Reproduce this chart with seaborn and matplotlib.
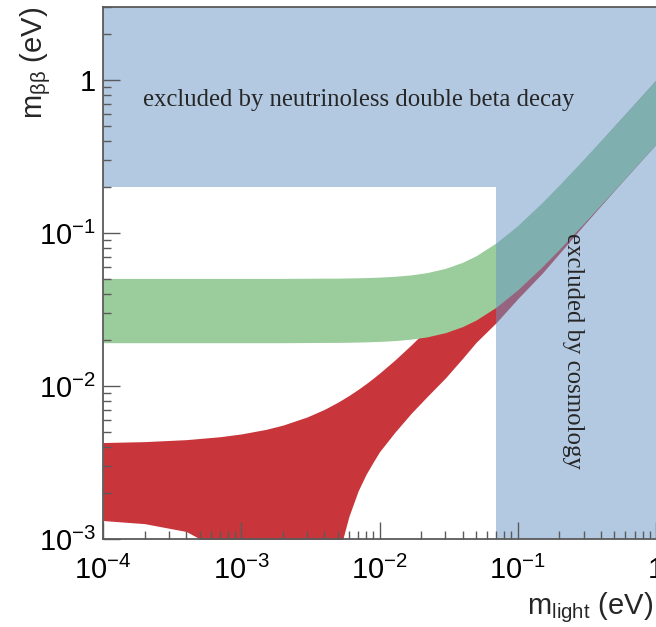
import numpy as np
import pandas as pd
import matplotlib
matplotlib.use("Agg")
import matplotlib.pyplot as plt
import seaborn as sns
from matplotlib.ticker import NullFormatter

# ---- data ----
m_light = [1e-4, 2e-4, 4e-4, 7e-4, 1e-3, 1.5e-3, 2e-3, 3e-3, 4e-3, 5e-3, 5.43e-3,
           6e-3, 7e-3, 8e-3, 9e-3, 0.01, 0.013, 0.017, 0.022, 0.03, 0.04, 0.05, 0.07,
           0.1, 0.15, 0.2, 0.3, 0.5, 0.7, 1.0]

# inverted hierarchy band (green)
ih_upper = [0.0505, 0.0505, 0.0505, 0.0505, 0.0505, 0.0505, 0.0505, 0.0506, 0.0507,
            0.0507, 0.0508, 0.05085, 0.05098, 0.05113, 0.0513, 0.05148, 0.05214,
            0.05328, 0.05508, 0.05874, 0.06442, 0.07106, 0.08631, 0.1120, 0.1583,
            0.2063, 0.3042, 0.5025, 0.7018, 1.0013]
ih_lower = [0.01919, 0.01919, 0.01919, 0.01919, 0.01919, 0.01919, 0.01919, 0.01923,
            0.01927, 0.01927, 0.0193, 0.01932, 0.01937, 0.01943, 0.0195, 0.01956,
            0.01981, 0.02025, 0.02093, 0.02232, 0.02448, 0.02700, 0.03280, 0.04256,
            0.06015, 0.07839, 0.1156, 0.1910, 0.2667, 0.3805]

# normal hierarchy band (red)
nh_upper = [0.00427, 0.00433, 0.00446, 0.00466, 0.00486, 0.00520, 0.00555, 0.00628,
            0.00704, 0.00784, 0.0082, 0.00866, 0.0095, 0.01036, 0.01124, 0.01213,
            0.01486, 0.01860, 0.02338, 0.03113, 0.04092, 0.05077, 0.07058, 0.10042,
            0.1503, 0.2003, 0.3002, 0.5001, 0.7001, 1.0]
nh_lower = [0.00132, 0.00126, 0.00112, 0.00085, 0.0006, 0.0003, 0.0001, 0.0001,
            0.0002, 0.0005, 0.0010, 0.00140, 0.00206, 0.00265, 0.00318, 0.00372,
            0.00502, 0.00665, 0.00849, 0.0113, 0.01521, 0.0193, 0.0260, 0.0372,
            0.0545, 0.0735, 0.1125, 0.1895, 0.2660, 0.3800]

# exclusion limits
mbb_limit = 0.2        # neutrinoless double beta decay
mlight_limit = 0.07    # cosmology

xlim = (1e-4, 1.0)
ylim = (1e-3, 3.0)

xtick_values = [1e-4, 1e-3, 1e-2, 1e-1, 1.0]
xtick_labels = [r"$10^{-4}$", r"$10^{-3}$", r"$10^{-2}$", r"$10^{-1}$", "1"]
ytick_values = [1e-3, 1e-2, 1e-1, 1.0]
ytick_labels = [r"$10^{-3}$", r"$10^{-2}$", r"$10^{-1}$", "1"]

df = pd.DataFrame({"m_light": m_light, "ih_upper": ih_upper, "ih_lower": ih_lower,
                   "nh_upper": nh_upper, "nh_lower": nh_lower})

# ---- style ----
sns.set_theme(style="ticks")
plt.rcParams["font.family"] = ["Liberation Sans", "DejaVu Sans"]
plt.rcParams["mathtext.default"] = "regular"
plt.rcParams["mathtext.fontset"] = "custom"
plt.rcParams["mathtext.rm"] = "Liberation Sans"
plt.rcParams["mathtext.it"] = "Liberation Sans:italic"

spine_col = "#5a5a5a"
red = "#c8353a"
green = "#9bcc9b"
blue = "#6694c4"

fig = plt.figure(figsize=(6.56, 6.27), dpi=100)
ax = fig.add_axes([103 / 656, 88 / 627, 553 / 656, 532 / 627])
ax.set_xscale("log")
ax.set_yscale("log")

ax.fill_between(df["m_light"], df["nh_lower"], df["nh_upper"], color=red,
                linewidth=0, zorder=1.0)
ax.fill_between(df["m_light"], df["ih_lower"], df["ih_upper"], color=green,
                linewidth=0, zorder=1.1)

# L-shaped excluded region (single semi-transparent patch)
ex_x = [xlim[0], mlight_limit, mlight_limit, xlim[1]]
ex_lo = [mbb_limit, mbb_limit, ylim[0], ylim[0]]
ax.fill_between(ex_x, ex_lo, ylim[1], color=blue, alpha=0.5, linewidth=0, zorder=1.2)

ax.text(1.95e-4, 0.676, "excluded by neutrinoless double beta decay",
        family=["Liberation Serif", "DejaVu Serif"], fontsize=17.8,
        ha="left", va="baseline", zorder=3)
ax.text(0.250, 0.1, "excluded by cosmology",
        family=["Liberation Serif", "DejaVu Serif"], fontsize=17.8,
        rotation=270, ha="center", va="top", zorder=3)

ax.set_xlim(*xlim)
ax.set_ylim(*ylim)
ax.set_xticks(xtick_values, labels=xtick_labels)
ax.set_yticks(ytick_values, labels=ytick_labels)
ax.xaxis.set_minor_formatter(NullFormatter())
ax.yaxis.set_minor_formatter(NullFormatter())

ax.tick_params(which="both", direction="in", colors=spine_col, labelcolor="black",
               top=False, right=False)
ax.tick_params(which="major", length=12, width=1.0, labelsize=21)
ax.tick_params(which="minor", length=6, width=1.0)
ax.tick_params(axis="x", which="major", pad=12)
ax.tick_params(axis="y", which="major", pad=5)
ax.set_axisbelow(False)

for side in ["left", "bottom", "top"]:
    ax.spines[side].set_color(spine_col)
    ax.spines[side].set_linewidth(1.3)
ax.spines["right"].set_visible(False)

ax.set_xlabel(r"m$_{\mathrm{light}}$ (eV)", fontsize=21, loc="right", labelpad=4)
ax.xaxis.label.set_x(0.995)
ax.set_ylabel(r"m$_{\beta\beta}$ (eV)", fontsize=21, loc="top")
ax.yaxis.set_label_coords(-0.090, 1.0)

fig.savefig("out.png", dpi=100)
